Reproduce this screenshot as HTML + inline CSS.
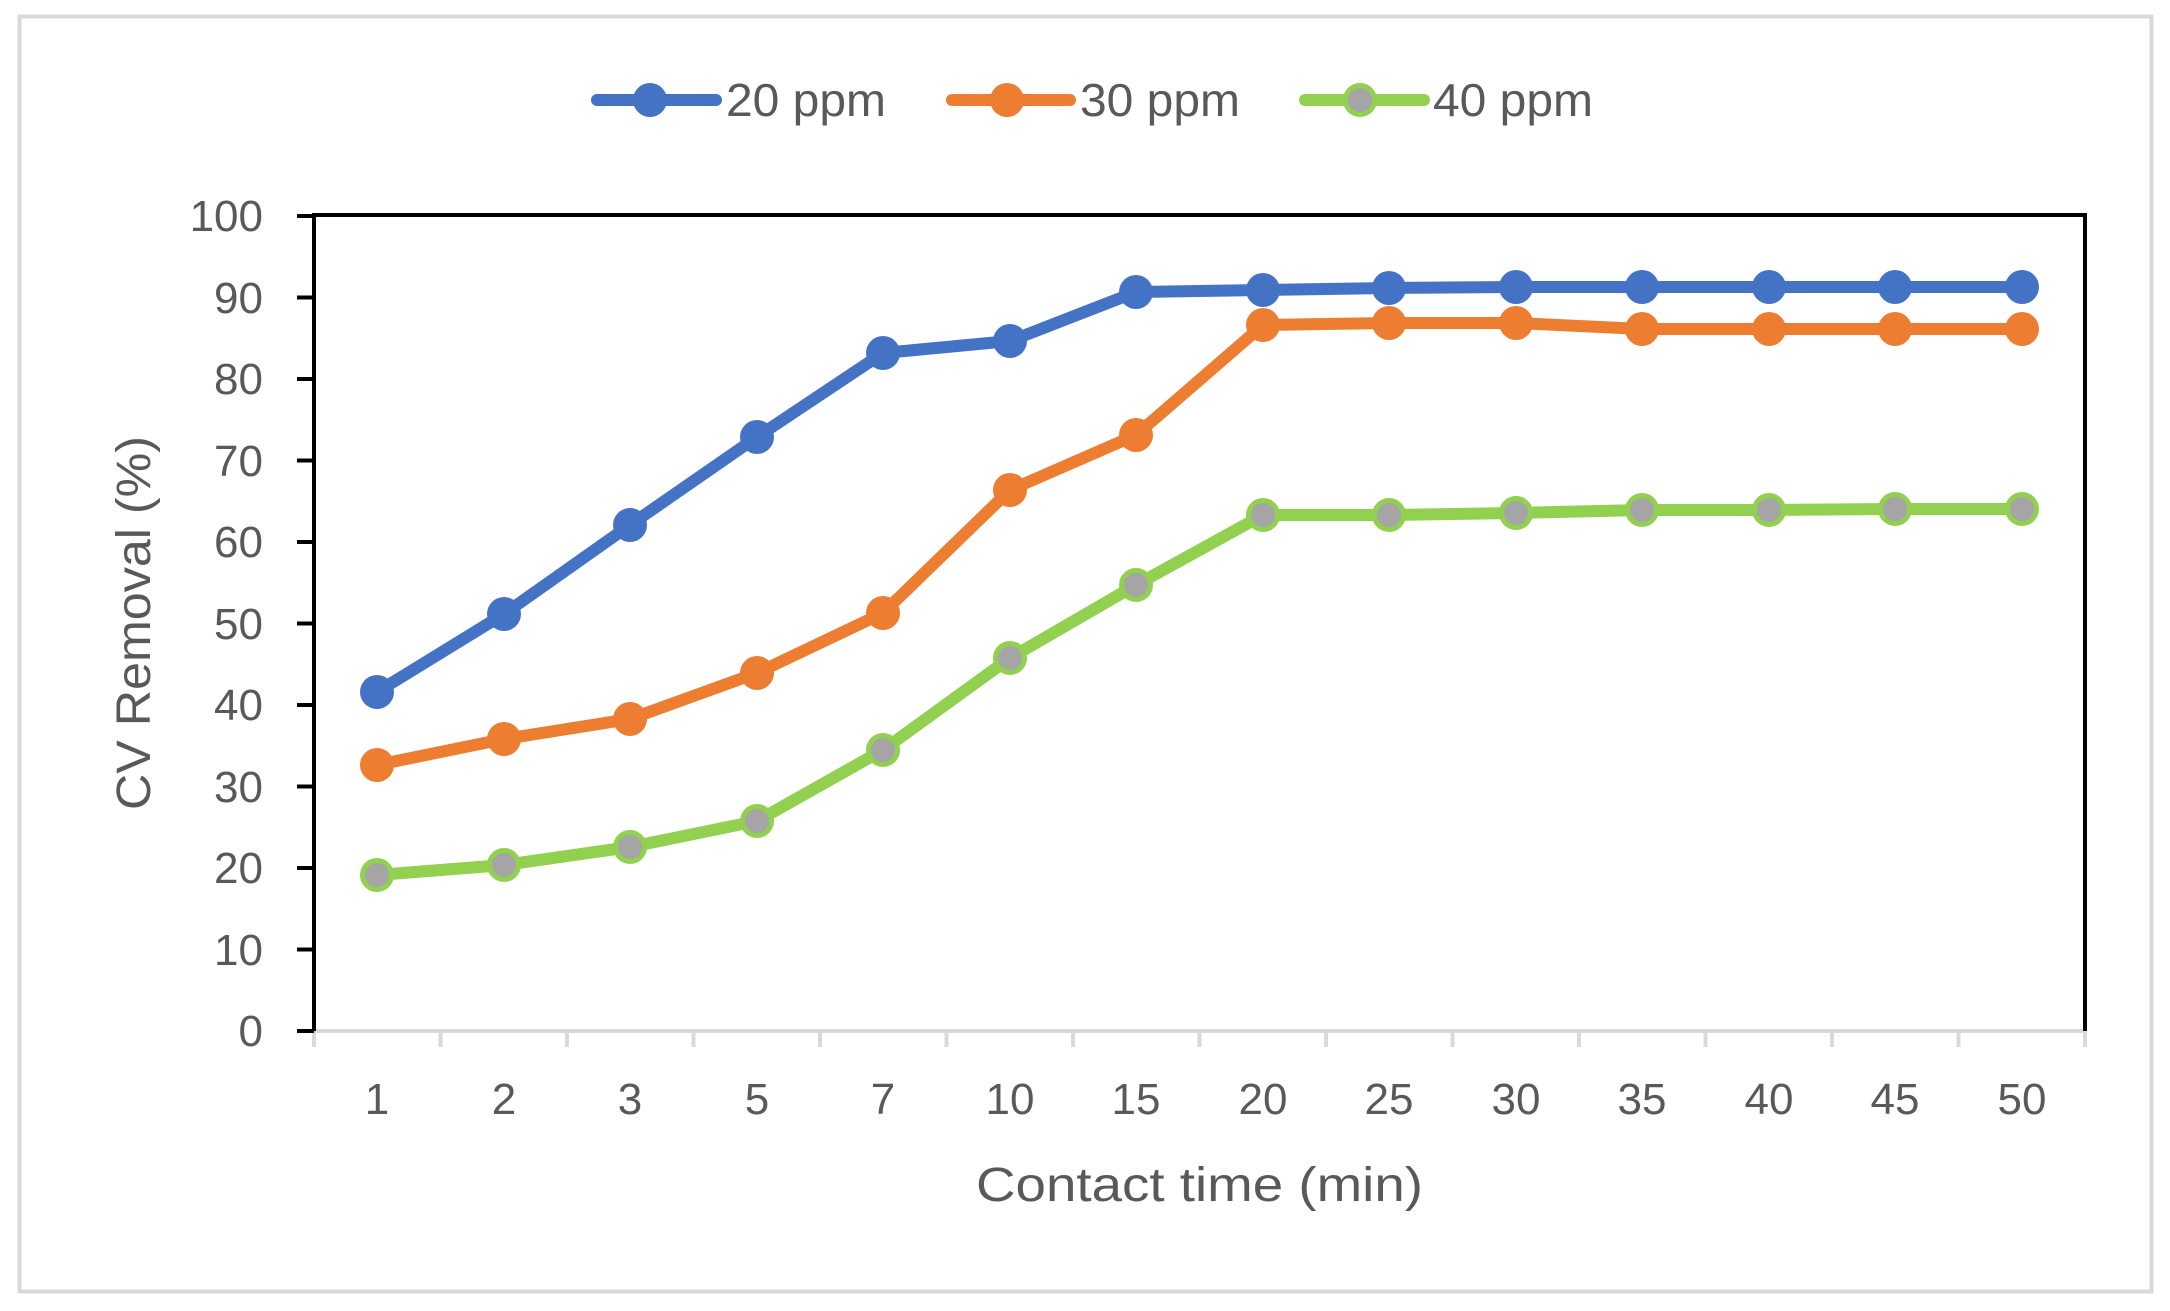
<!DOCTYPE html>
<html><head><meta charset="utf-8"><style>
html,body{margin:0;padding:0;background:#fff}
svg{display:block}
text{font-family:"Liberation Sans",sans-serif;fill:#595959}
</style></head><body>
<svg width="2170" height="1311" viewBox="0 0 2170 1311" xmlns="http://www.w3.org/2000/svg">
<rect x="19.5" y="16.5" width="2132" height="1275" fill="#fff" stroke="#d9d9d9" stroke-width="4"/>
<!-- legend -->
<g stroke-linecap="round">
<line x1="597" y1="100" x2="716" y2="100" stroke="#4472c4" stroke-width="12"/>
<circle cx="650" cy="100" r="17" fill="#4472c4"/>
<line x1="952" y1="100" x2="1070" y2="100" stroke="#ed7d31" stroke-width="12"/>
<circle cx="1007" cy="100" r="17" fill="#ed7d31"/>
<line x1="1305" y1="100" x2="1424" y2="100" stroke="#92d050" stroke-width="12"/>
<circle cx="1360" cy="100" r="14.5" fill="#a5a5a5" stroke="#92d050" stroke-width="5"/>
</g>
<text x="726" y="116" font-size="46" textLength="160" lengthAdjust="spacingAndGlyphs">20 ppm</text>
<text x="1080" y="116" font-size="46" textLength="160" lengthAdjust="spacingAndGlyphs">30 ppm</text>
<text x="1433" y="116" font-size="46" textLength="160" lengthAdjust="spacingAndGlyphs">40 ppm</text>
<!-- x axis grey -->
<g stroke="#d9d9d9" stroke-width="4">
<line x1="314" y1="1031" x2="2085" y2="1031"/>
<line x1="314.0" y1="1031" x2="314.0" y2="1047"/><line x1="440.5" y1="1031" x2="440.5" y2="1047"/><line x1="567.0" y1="1031" x2="567.0" y2="1047"/><line x1="693.5" y1="1031" x2="693.5" y2="1047"/><line x1="820.0" y1="1031" x2="820.0" y2="1047"/><line x1="946.5" y1="1031" x2="946.5" y2="1047"/><line x1="1073.0" y1="1031" x2="1073.0" y2="1047"/><line x1="1199.5" y1="1031" x2="1199.5" y2="1047"/><line x1="1326.0" y1="1031" x2="1326.0" y2="1047"/><line x1="1452.5" y1="1031" x2="1452.5" y2="1047"/><line x1="1579.0" y1="1031" x2="1579.0" y2="1047"/><line x1="1705.5" y1="1031" x2="1705.5" y2="1047"/><line x1="1832.0" y1="1031" x2="1832.0" y2="1047"/><line x1="1958.5" y1="1031" x2="1958.5" y2="1047"/><line x1="2085.0" y1="1031" x2="2085.0" y2="1047"/>
</g>
<!-- black frame -->
<g stroke="#000" stroke-width="4" fill="none">
<polyline points="314,1031 314,215 2085,215 2085,1031"/>
<line x1="297" y1="1031" x2="314" y2="1031"/>
<line x1="297" y1="949.5" x2="314" y2="949.5"/><line x1="297" y1="868" x2="314" y2="868"/><line x1="297" y1="786.5" x2="314" y2="786.5"/><line x1="297" y1="705" x2="314" y2="705"/><line x1="297" y1="623.5" x2="314" y2="623.5"/><line x1="297" y1="542" x2="314" y2="542"/><line x1="297" y1="460.5" x2="314" y2="460.5"/><line x1="297" y1="379" x2="314" y2="379"/><line x1="297" y1="297.5" x2="314" y2="297.5"/><line x1="297" y1="216" x2="314" y2="216"/>
</g>
<g font-size="44" text-anchor="end">
<text x="263" y="1046">0</text><text x="263" y="965">10</text><text x="263" y="883">20</text><text x="263" y="802">30</text><text x="263" y="720">40</text><text x="263" y="639">50</text><text x="263" y="557">60</text><text x="263" y="476">70</text><text x="263" y="394">80</text><text x="263" y="313">90</text><text x="263" y="231">100</text>
</g>
<g font-size="44" text-anchor="middle">
<text x="377" y="1114">1</text><text x="504" y="1114">2</text><text x="630" y="1114">3</text><text x="757" y="1114">5</text><text x="883" y="1114">7</text><text x="1010" y="1114">10</text><text x="1136" y="1114">15</text><text x="1263" y="1114">20</text><text x="1389" y="1114">25</text><text x="1516" y="1114">30</text><text x="1642" y="1114">35</text><text x="1769" y="1114">40</text><text x="1895" y="1114">45</text><text x="2022" y="1114">50</text>
</g>
<text x="976" y="1201" font-size="48" textLength="447" lengthAdjust="spacingAndGlyphs">Contact time (min)</text>
<text transform="translate(150,623) rotate(-90)" font-size="48" text-anchor="middle" textLength="374" lengthAdjust="spacingAndGlyphs">CV Removal (%)</text>
<!-- series -->
<g fill="none" stroke-width="12" stroke-linejoin="round">
<polyline stroke="#4472c4" points="377,692 504,614 630,525 757,437 883,353 1010,341 1136,292 1263,290 1389,288 1516,287 1642,287 1769,287 1895,287 2022,287"/>
<polyline stroke="#ed7d31" points="377,765 504,739 630,719 757,673 883,613 1010,490 1136,435 1263,325 1389,323 1516,323 1642,329 1769,329 1895,329 2022,329"/>
<polyline stroke="#92d050" points="377,875 504,865 630,847 757,821 883,750 1010,658 1136,585 1263,515 1389,515 1516,513 1642,510 1769,510 1895,509 2022,509"/>
</g>
<g fill="#4472c4">
<circle cx="377" cy="692" r="17"/><circle cx="504" cy="614" r="17"/><circle cx="630" cy="525" r="17"/><circle cx="757" cy="437" r="17"/><circle cx="883" cy="353" r="17"/><circle cx="1010" cy="341" r="17"/><circle cx="1136" cy="292" r="17"/><circle cx="1263" cy="290" r="17"/><circle cx="1389" cy="288" r="17"/><circle cx="1516" cy="287" r="17"/><circle cx="1642" cy="287" r="17"/><circle cx="1769" cy="287" r="17"/><circle cx="1895" cy="287" r="17"/><circle cx="2022" cy="287" r="17"/>
</g>
<g fill="#ed7d31">
<circle cx="377" cy="765" r="17"/><circle cx="504" cy="739" r="17"/><circle cx="630" cy="719" r="17"/><circle cx="757" cy="673" r="17"/><circle cx="883" cy="613" r="17"/><circle cx="1010" cy="490" r="17"/><circle cx="1136" cy="435" r="17"/><circle cx="1263" cy="325" r="17"/><circle cx="1389" cy="323" r="17"/><circle cx="1516" cy="323" r="17"/><circle cx="1642" cy="329" r="17"/><circle cx="1769" cy="329" r="17"/><circle cx="1895" cy="329" r="17"/><circle cx="2022" cy="329" r="17"/>
</g>
<g fill="#a5a5a5" stroke="#92d050" stroke-width="5">
<circle cx="377" cy="875" r="14.5"/><circle cx="504" cy="865" r="14.5"/><circle cx="630" cy="847" r="14.5"/><circle cx="757" cy="821" r="14.5"/><circle cx="883" cy="750" r="14.5"/><circle cx="1010" cy="658" r="14.5"/><circle cx="1136" cy="585" r="14.5"/><circle cx="1263" cy="515" r="14.5"/><circle cx="1389" cy="515" r="14.5"/><circle cx="1516" cy="513" r="14.5"/><circle cx="1642" cy="510" r="14.5"/><circle cx="1769" cy="510" r="14.5"/><circle cx="1895" cy="509" r="14.5"/><circle cx="2022" cy="509" r="14.5"/>
</g>
</svg>
</body></html>
